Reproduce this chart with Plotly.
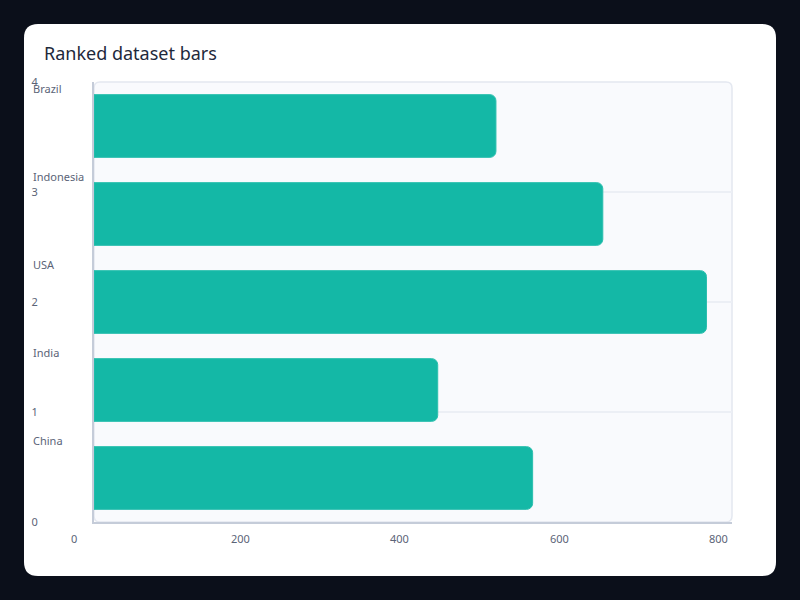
import plotly.graph_objects as go

# Data (bottom to top)
countries = ["China", "India", "USA", "Indonesia", "Brazil"]
values = [550, 431, 768, 638, 504]
x_ticks = [0, 200, 400, 600, 800]
y_ticks = [0, 1, 2, 3, 4]

W, H = 800, 600
L, R, T, B = 94, 68, 82, 78
pw, ph = W - L - R, H - T - B


def rounded_rect(x0, y0, x1, y1, rx, ry):
    return (f"M{x0 + rx},{y0} L{x1 - rx},{y0} Q{x1},{y0} {x1},{y0 + ry} "
            f"L{x1},{y1 - ry} Q{x1},{y1} {x1 - rx},{y1} L{x0 + rx},{y1} "
            f"Q{x0},{y1} {x0},{y1 - ry} L{x0},{y0 + ry} Q{x0},{y0} {x0 + rx},{y0} Z")


def px_x(p):
    return (p - L) / pw


def px_y(p):
    return (H - B - p) / ph


fig = go.Figure()
# empty trace so the numeric y axis (ticks + grid) gets drawn
fig.add_trace(go.Scatter(x=[None] * len(y_ticks), y=y_ticks, mode="markers",
                         marker=dict(opacity=0), hoverinfo="skip", showlegend=False))
fig.add_trace(go.Bar(
    x=values, y=countries, orientation="h", yaxis="y2",
    marker=dict(color="#14b8a6", line=dict(color="#2bbfae", width=1)),
    hoverinfo="x+y", showlegend=False,
))

shapes = [
    # white card
    dict(type="path", xref="paper", yref="paper", layer="below",
         path=rounded_rect(px_x(24), px_y(576), px_x(776), px_y(24), 14 / pw, 14 / ph),
         fillcolor="white", line=dict(width=0)),
    # plot area background
    dict(type="path", xref="paper", yref="paper", layer="below",
         path=rounded_rect(0, 0, 1, 1, 6 / pw, 6 / ph),
         fillcolor="#f9fafd", line=dict(color="#e4e8f0", width=1.5)),
]

annotations = []
for i, c in enumerate(countries):
    annotations.append(dict(
        text=c, x=0, xref="paper", xshift=-63, xanchor="left",
        y=i + 0.5, yref="y2", yanchor="top", yshift=3, showarrow=False,
        font=dict(size=11, color="#5b6477"),
    ))
for v in x_ticks:
    annotations.append(dict(
        text=str(v), x=v, xref="x", xanchor="left", xshift=-25,
        y=0, yref="paper", yanchor="top", yshift=-7, showarrow=False,
        font=dict(size=11, color="#5b6477"),
    ))

fig.update_layout(
    width=W, height=H,
    margin=dict(l=L, r=R, t=T, b=B),
    paper_bgcolor="#0b0f1a", plot_bgcolor="rgba(0,0,0,0)",
    font=dict(family="Noto Sans", size=11, color="#5b6477"),
    title=dict(text="Ranked dataset bars", xref="container", yref="container",
               x=44 / W, xanchor="left", y=1 - 54 / H, yanchor="middle",
               font=dict(size=18, color="#1e293b", family="Noto Sans")),
    bargap=0.287, barcornerradius=6,
    xaxis=dict(range=[0, 800], showgrid=False, zeroline=False, showticklabels=False,
               showline=True, linecolor="#c5ccd9", linewidth=2, ticks=""),
    yaxis=dict(range=[0, 4], tickvals=y_ticks, showgrid=True, gridcolor="#eceff5",
               gridwidth=1.5, zeroline=False, showline=True, linecolor="#c5ccd9",
               linewidth=2, ticks="", ticklabelstandoff=52,
               tickfont=dict(size=11, color="#5b6477")),
    yaxis2=dict(overlaying="y", type="category", categoryorder="array",
                categoryarray=countries, range=[-0.5, 4.5], visible=False),
    shapes=shapes, annotations=annotations,
)

fig.write_html("out.html", config={"displayModeBar": False},
               post_script="document.body.style.margin='0';"
                           "document.body.style.background='#0b0f1a';")
